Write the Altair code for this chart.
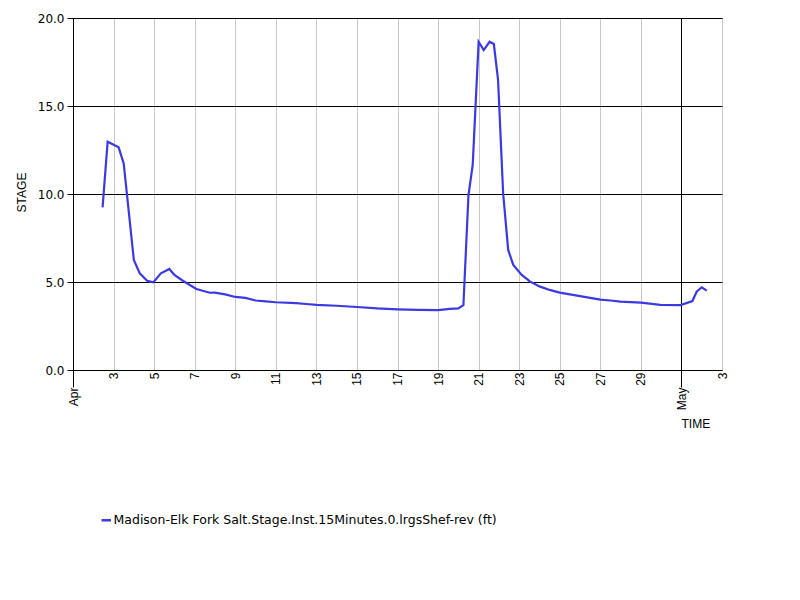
import altair as alt
import pandas as pd

# ---- data ----
times = [
    "2023-04-02T11:00", "2023-04-02T17:00", "2023-04-03T06:00", "2023-04-03T12:00",
    "2023-04-04T00:00", "2023-04-04T07:00", "2023-04-04T16:00", "2023-04-04T23:00",
    "2023-04-05T08:00", "2023-04-05T18:00", "2023-04-06T00:00", "2023-04-06T10:00",
    "2023-04-07T02:00", "2023-04-07T18:00", "2023-04-08T00:00", "2023-04-08T12:00",
    "2023-04-09T00:00", "2023-04-09T12:00", "2023-04-10T00:00", "2023-04-10T12:00",
    "2023-04-11T00:00", "2023-04-12T00:00", "2023-04-12T12:00", "2023-04-13T00:00",
    "2023-04-14T00:00", "2023-04-15T00:00", "2023-04-16T00:00", "2023-04-17T00:00",
    "2023-04-18T00:00", "2023-04-19T00:00", "2023-04-19T14:00", "2023-04-20T00:00",
    "2023-04-20T06:00", "2023-04-20T12:00", "2023-04-20T17:00", "2023-04-21T00:00",
    "2023-04-21T06:00", "2023-04-21T13:00", "2023-04-21T18:00", "2023-04-21T23:00",
    "2023-04-22T05:00", "2023-04-22T11:00", "2023-04-22T17:00", "2023-04-23T03:00",
    "2023-04-23T13:00", "2023-04-24T00:00", "2023-04-24T12:00", "2023-04-25T00:00",
    "2023-04-26T00:00", "2023-04-27T00:00", "2023-04-27T12:00", "2023-04-28T00:00",
    "2023-04-29T00:00", "2023-04-29T23:00", "2023-04-30T23:00", "2023-05-01T13:00",
    "2023-05-01T18:00", "2023-05-02T00:00", "2023-05-02T06:00",
]
stage = [
    9.24, 12.97, 12.65, 11.74,
    6.25, 5.49, 5.06, 4.98,
    5.49, 5.74, 5.40, 5.07,
    4.60, 4.39, 4.40, 4.30,
    4.15, 4.10, 3.95, 3.90,
    3.85, 3.80, 3.75, 3.70,
    3.65, 3.58, 3.50, 3.45,
    3.42, 3.40, 3.47, 3.50,
    3.69, 9.94, 11.65, 18.65,
    18.18, 18.65, 18.52, 16.48,
    10.04, 6.82, 5.97, 5.40,
    5.02, 4.75, 4.55, 4.40,
    4.20, 4.00, 3.95, 3.88,
    3.83, 3.70, 3.69, 3.92,
    4.45, 4.70, 4.51,
]
series_name = "Madison-Elk Fork Salt.Stage.Inst.15Minutes.0.lrgsShef-rev (ft)"
day_tick_dates = [(4, d) for d in range(3, 30, 2)] + [(5, 3)]
month_tick_dates = [(4, 1), (5, 1)]
y_ticks = [0, 5, 10, 15, 20]

df = pd.DataFrame({"time": times, "stage": stage, "series": series_name})

def dt(m, d):
    return alt.DateTime(year=2023, month=m, date=d)

x_scale = alt.Scale(domain=[dt(4, 1), dt(5, 3)])
y_scale = alt.Scale(domain=[0, 20])

y_enc = alt.Y(
    "stage:Q",
    scale=y_scale,
    axis=alt.Axis(
        values=y_ticks, format=".1f", grid=True, gridColor="black", gridWidth=1,
        domain=False, ticks=True, tickSize=6, tickColor="black",
        labelFont="DejaVu Sans", labelFontSize=12, labelColor="black", labelPadding=3,
        title="STAGE", titleFont="Liberation Sans", titleFontSize=12,
        titleFontWeight="normal", titleColor="black", titleX=-52, titleY=174,
        titleAngle=270, titleAlign="center", titleBaseline="middle",
    ),
)

base = alt.Chart(df)

month_layer = base.mark_line(strokeOpacity=0).encode(
    x=alt.X(
        "time:T", scale=x_scale,
        axis=alt.Axis(
            orient="bottom", values=[dt(m, d) for m, d in month_tick_dates],
            labelExpr="timeFormat(datum.value, '%b')", labelAngle=270,
            domain=False, ticks=True, tickSize=17, tickColor="black",
            labelPadding=0, labelFont="Liberation Sans", labelFontSize=12,
            labelColor="black", grid=True, gridColor="black", gridWidth=1,
            title=None, labelFlush=False, labelOverlap=False,
        ),
    ),
    y=y_enc,
)

day_layer = base.mark_line(strokeWidth=2.2).encode(
    x=alt.X(
        "time:T", scale=x_scale,
        axis=alt.Axis(
            orient="bottom", values=[dt(m, d) for m, d in day_tick_dates],
            labelExpr="date(datum.value)", labelAngle=270,
            domain=False, ticks=False, labelPadding=2,
            labelFont="Liberation Sans", labelFontSize=12, labelColor="black",
            grid=True, gridColor="#c8c8c8", gridWidth=1,
            labelFlush=False, labelOverlap=False,
            title="TIME", titleFont="Liberation Sans", titleFontSize=12,
            titleFontWeight="normal", titleColor="black", titleX=608, titleY=53,
            titleAlign="left", titleBaseline="middle", titleAngle=0,
        ),
    ),
    y=y_enc,
    color=alt.Color(
        "series:N",
        scale=alt.Scale(range=["#3a3ae0"]),
        legend=alt.Legend(
            title=None, orient="none", legendX=27, legendY=496,
            symbolType="stroke", symbolStrokeWidth=2.5, symbolSize=90,
            labelFont="DejaVu Sans", labelFontSize=12.5, labelColor="black",
            labelLimit=1000, padding=0, labelOffset=1,
        ),
    ),
)

chart = (
    alt.layer(month_layer, day_layer)
    .resolve_axis(x="independent")
    .properties(
        width=649, height=352,
        autosize=alt.AutoSizeParams(type="none"),
        padding={"left": 65, "top": 10, "right": 70, "bottom": 222},
        background="white",
    )
    .configure_view(stroke="black", strokeWidth=1)
)

chart.save("out.html", embed_options={"renderer": "svg", "actions": False})
